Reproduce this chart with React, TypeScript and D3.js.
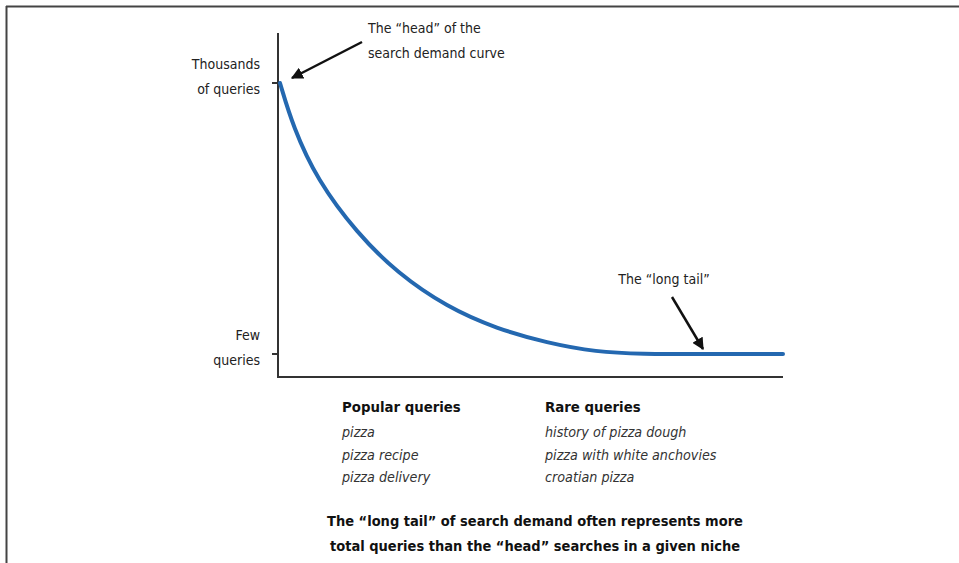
import React from "react";
import * as d3 from "d3";

// Demand curve (x: position in query list 0..100, y: relative query volume 0..100)
const curveX = [0, 2.6, 7.4, 15.3, 23.3, 33.2, 43.1, 53.1, 63.0, 71.6, 85, 100];
const curveY = [100, 83.8, 64.2, 44.6, 29.9, 17.3, 9.3, 4.1, 0.7, 0, 0, 0];

const yTickValues = [100, 0];
const yTickLabels = [["Thousands", "of queries"], ["Few", "queries"]];

const popularQueries = ["pizza", "pizza recipe", "pizza delivery"];
const rareQueries = ["history of pizza dough", "pizza with white anchovies", "croatian pizza"];

const captionLines = [
  "The \u201clong tail\u201d of search demand often represents more",
  "total queries than the \u201chead\u201d searches in a given niche",
];

const W = 959;
const H = 563;
const FONT = "'Liberation Sans Narrow', 'DejaVu Sans Condensed', 'Roboto', sans-serif";

export default function App() {
  const x = d3.scaleLinear().domain([0, 100]).range([280, 783]);
  const y = d3.scaleLinear().domain([0, 100]).range([354, 83]);
  const pts = curveX.map((v, i) => [v, curveY[i]] as [number, number]);
  const line = d3
    .line<[number, number]>()
    .x((d) => x(d[0]))
    .y((d) => y(d[1]))
    .curve(d3.curveBasis);

  const axisX0 = 278;
  const axisYTop = 33;
  const axisYBottom = 377;

  return (
    <svg
      width={W}
      height={H}
      style={{ position: "fixed", left: 0, top: 0, background: "#fff" }}
      fontFamily={FONT}
    >
      <defs>
        <marker id="arr2" viewBox="0 0 10 10" refX="9" refY="5" markerWidth="12" markerHeight="12" orient="auto" markerUnits="userSpaceOnUse">
          <path d="M0,0 L10,5 L0,10 z" fill="#111" />
        </marker>
      </defs>

      {/* frame */}
      <line x1={6} y1={6.5} x2={W} y2={6.5} stroke="#444" strokeWidth={2} />
      <line x1={6.5} y1={6} x2={6.5} y2={H} stroke="#444" strokeWidth={2} />

      {/* axes */}
      <line x1={axisX0} y1={axisYTop} x2={axisX0} y2={axisYBottom} stroke="#333" strokeWidth={2} />
      <line x1={axisX0 - 1} y1={axisYBottom} x2={783} y2={axisYBottom} stroke="#333" strokeWidth={2} />

      {yTickValues.map((v, i) => (
        <g key={i}>
          <line x1={272} x2={axisX0} y1={y(v)} y2={y(v)} stroke="#333" strokeWidth={2} />
          <text x={260} y={y(v) - 14} textAnchor="end" fontSize={14} fill="#222">
            {yTickLabels[i][0]}
          </text>
          <text x={260} y={y(v) + 11} textAnchor="end" fontSize={14} fill="#222">
            {yTickLabels[i][1]}
          </text>
        </g>
      ))}

      {/* curve */}
      <path d={line(pts) || ""} fill="none" stroke="#2468b0" strokeWidth={4} strokeLinecap="round" />

      {/* head annotation */}
      <text x={368} y={33} fontSize={14} fill="#222">The {"\u201chead\u201d"} of the</text>
      <text x={368} y={58} fontSize={14} fill="#222">search demand curve</text>
      <line x1={362} y1={42} x2={292} y2={78} stroke="#111" strokeWidth={2.5} markerEnd="url(#arr2)" />

      {/* long tail annotation */}
      <text x={664} y={284} textAnchor="middle" fontSize={14} fill="#222">The {"\u201clong tail\u201d"}</text>
      <line x1={672} y1={297} x2={703} y2={349} stroke="#111" strokeWidth={2.5} markerEnd="url(#arr2)" />

      {/* query lists */}
      <text x={342} y={412} fontSize={14.8} fontWeight="bold" fill="#111">Popular queries</text>
      {popularQueries.map((q, i) => (
        <text key={q} x={342} y={437 + i * 22.5} fontSize={14.2} fontStyle="italic" fill="#333">{q}</text>
      ))}
      <text x={545} y={412} fontSize={14.8} fontWeight="bold" fill="#111">Rare queries</text>
      {rareQueries.map((q, i) => (
        <text key={q} x={545} y={437 + i * 22.5} fontSize={14.2} fontStyle="italic" fill="#333">{q}</text>
      ))}

      {/* caption */}
      {captionLines.map((c, i) => (
        <text key={i} x={535} y={526 + i * 25} textAnchor="middle" fontSize={14.5} fontWeight="bold" fill="#111">
          {c}
        </text>
      ))}
    </svg>
  );
}
